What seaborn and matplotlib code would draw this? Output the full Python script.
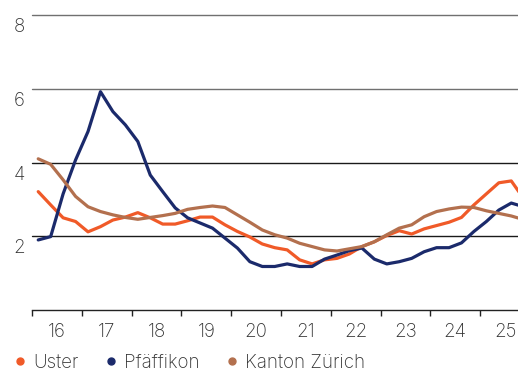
import numpy as np
import pandas as pd
import matplotlib
matplotlib.use("Agg")
import matplotlib.pyplot as plt
import matplotlib.transforms as mtransforms
from matplotlib.lines import Line2D
import seaborn as sns

# Quarterly values, 2016 Q1 .. 2025 Q4 (quarter midpoints)
quarters = [2016 + i * 0.25 + 0.125 for i in range(40)]

uster = [3.21, 2.85, 2.50, 2.40, 2.12, 2.26, 2.44, 2.52, 2.64, 2.50,
         2.33, 2.33, 2.42, 2.52, 2.52, 2.31, 2.13, 1.98, 1.79, 1.69,
         1.63, 1.36, 1.25, 1.36, 1.40, 1.52, 1.72, 1.85, 2.02, 2.15,
         2.06, 2.20, 2.29, 2.38, 2.51, 2.85, 3.15, 3.45, 3.50, 3.02]

pfaeffikon = [1.90, 1.99, 3.15, 4.07, 4.84, 5.92, 5.38, 5.02, 4.57, 3.66,
              3.21, 2.77, 2.50, 2.36, 2.22, 1.95, 1.68, 1.31, 1.18, 1.18,
              1.25, 1.18, 1.18, 1.38, 1.49, 1.61, 1.68, 1.38, 1.25, 1.31,
              1.40, 1.58, 1.69, 1.69, 1.82, 2.13, 2.40, 2.71, 2.90, 2.80]

kanton = [4.10, 3.95, 3.53, 3.08, 2.80, 2.67, 2.58, 2.51, 2.46, 2.51,
          2.56, 2.62, 2.73, 2.78, 2.82, 2.78, 2.58, 2.38, 2.17, 2.04,
          1.95, 1.81, 1.72, 1.63, 1.60, 1.66, 1.72, 1.85, 2.04, 2.22,
          2.31, 2.53, 2.67, 2.74, 2.79, 2.78, 2.69, 2.62, 2.55, 2.45]

series_names = ["Uster", "Pfäffikon", "Kanton Zürich"]
colors = ["#F05A28", "#1B2A6B", "#B3704E"]
year_labels = ["16", "17", "18", "19", "20", "21", "22", "23", "24", "25"]
y_ticks = [2, 4, 6, 8]

df = pd.DataFrame({
    "x": quarters * 3,
    "value": uster + pfaeffikon + kanton,
    "series": [series_names[0]] * 40 + [series_names[1]] * 40 + [series_names[2]] * 40,
})

sns.set_theme(style="white")
plt.rcParams["font.family"] = ["Inter", "DejaVu Sans"]
plt.rcParams["font.weight"] = "light"

fig = plt.figure(figsize=(5.18, 3.72), dpi=100)
ax = fig.add_axes([32 / 518, 1 - 310 / 372, 1 - 32 / 518, (310 - 15) / 372])

sns.lineplot(data=df, x="x", y="value", hue="series", hue_order=series_names,
             palette=colors, linewidth=2.3, ax=ax, legend=False)

ax.set_xlim(2016, 2025.76)
ax.set_ylim(0, 8)

for s in ["top", "right", "left"]:
    ax.spines[s].set_visible(False)
ax.spines["bottom"].set_color("#222222")
ax.spines["bottom"].set_linewidth(1.0)

grid_colors = {2: "#1a1a1a", 4: "#1a1a1a", 6: "#707070", 8: "#707070"}
for yv in y_ticks:
    ax.axhline(yv, color=grid_colors[yv], linewidth=1.0, zorder=0, clip_on=False)

# x ticks: year boundaries as ticks, labels at mid-year
years = list(range(2016, 2026))
ax.set_xticks(years)
ax.set_xticklabels([])
ax.set_xticks([y + 0.5 for y in years], minor=True)
ax.set_xticklabels(year_labels, minor=True)
ax.tick_params(axis="x", which="major", direction="out", length=4.5, width=1.0,
               color="#222222", bottom=True)
ax.tick_params(axis="x", which="minor", length=0, pad=9.5, labelsize=13.5,
               labelcolor="#333333")

ax.set_yticks(y_ticks)
ax.set_yticklabels([str(v) for v in y_ticks])
ax.tick_params(axis="y", length=0, pad=5, labelsize=13.5, labelcolor="#333333", left=True)
offset = mtransforms.ScaledTranslation(0, -0.10, fig.dpi_scale_trans)
for lab in ax.get_yticklabels():
    lab.set_transform(lab.get_transform() + offset)

ax.set_xlabel("")
ax.set_ylabel("")

handles = [Line2D([0], [0], marker="o", linestyle="none", markersize=5,
                  markerfacecolor=c, markeredgecolor=c) for c in colors]
fig.legend(handles, series_names, loc="center left",
           bbox_to_anchor=(-0.0154, 1 - 363 / 372),
           ncol=3, frameon=False, fontsize=13.5, handletextpad=0.1,
           columnspacing=1.12, handlelength=1.2, labelcolor="#333333")

fig.savefig("out.png", dpi=100)
